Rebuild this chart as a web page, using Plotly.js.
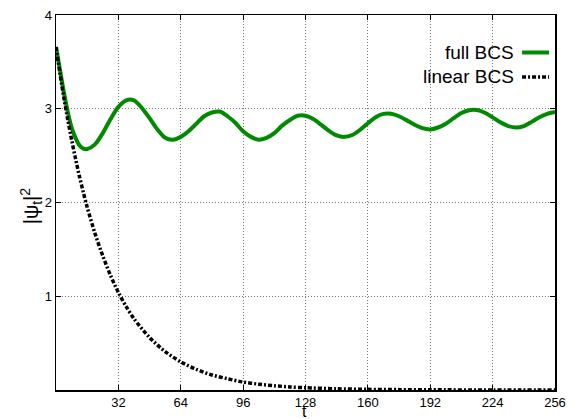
<!DOCTYPE html>
<html>
<head>
<meta charset="utf-8">
<script src="https://cdn.plot.ly/plotly-3.0.1.min.js"></script>
<style>
  html, body { margin: 0; padding: 0; background: #fff; }
  #plot { width: 575px; height: 419px; }
</style>
</head>
<body>
<div id="plot"></div>
<script>
// Time samples and |psi_t|^2 for the full BCS dynamics
const tFull = [0, 2, 4, 6, 8, 10, 12, 14, 16,
  20, 24, 28, 32, 36, 40, 44, 48, 52, 56, 60, 64, 68, 72, 76, 80,
  84, 88, 92, 96, 100, 104, 108, 112, 116, 120, 124, 128, 132, 136, 140,
  144, 148, 152, 156, 160, 164, 168, 172, 176, 180, 184, 188, 192, 196,
  200, 204, 208, 212, 216, 220, 224, 228, 232, 236, 240, 244, 248, 252, 256];
const fullBCS = [3.66, 3.42, 3.18, 2.97, 2.80, 2.69, 2.61, 2.575, 2.57,
  2.62, 2.74, 2.89, 3.02, 3.09, 3.09, 3.01, 2.90, 2.78, 2.69, 2.67, 2.70, 2.76, 2.84, 2.92, 2.96,
  2.97, 2.92, 2.85, 2.76, 2.70, 2.67, 2.69, 2.74, 2.82, 2.88, 2.925, 2.925, 2.89, 2.83, 2.765,
  2.715, 2.70, 2.72, 2.775, 2.845, 2.91, 2.945, 2.947, 2.92, 2.876, 2.829, 2.793, 2.78, 2.80,
  2.84, 2.90, 2.955, 2.985, 2.986, 2.957, 2.908, 2.855, 2.815, 2.80, 2.815, 2.86, 2.91, 2.945, 2.965];

// Time samples and |psi_t|^2 for the linearised BCS dynamics
const tLin = [0, 2, 4, 6, 8, 10, 12, 14, 16, 20, 24, 28, 32, 36, 40, 48, 56, 64,
  72, 80, 88, 96, 104, 112, 120, 128, 144, 160, 176, 192, 224, 256];
const linearBCS = [3.66, 3.38, 3.12, 2.89, 2.67, 2.47, 2.28, 2.11, 1.95, 1.67, 1.43, 1.22, 1.04, 0.89, 0.76, 0.56, 0.41, 0.30,
  0.22, 0.16, 0.12, 0.085, 0.062, 0.045, 0.033, 0.024, 0.013, 0.007, 0.004, 0.002, 0.0006, 0.0002];

const xTicks = [32, 64, 96, 128, 160, 192, 224, 256];
const yTicks = [1, 2, 3, 4];
const seriesNames = ['full BCS', 'linear BCS'];

const green = '#008a00';
const font = 'Liberation Sans, Arial, sans-serif';
const dashPattern = '4px,2px,2px,2px';

const traces = [
  {
    x: tFull, y: fullBCS, name: seriesNames[0], type: 'scatter', mode: 'lines',
    line: { color: green, width: 4, shape: 'spline', smoothing: 0.8 }
  },
  {
    x: tLin, y: linearBCS, name: seriesNames[1], type: 'scatter', mode: 'lines',
    line: { color: '#000', width: 3.5, dash: dashPattern, shape: 'spline', smoothing: 0.8 }
  }
];

const axisCommon = {
  showline: true, linecolor: '#000', linewidth: 1.5, mirror: 'ticks',
  ticks: 'inside', ticklen: 5, tickwidth: 1, tickcolor: '#000',
  showgrid: true, gridcolor: '#777', gridwidth: 1, griddash: '1px,2px',
  zeroline: false, tickfont: { family: font, size: 13, color: '#000' },
  automargin: false
};

// Legend drawn gnuplot-style: right-aligned label with the line sample to its right
const legendY = [0.9, 0.835];
const legendShapes = [
  { type: 'line', xref: 'paper', yref: 'paper', x0: 0.934, x1: 0.988, y0: legendY[0], y1: legendY[0],
    line: { color: green, width: 4 } },
  { type: 'line', xref: 'paper', yref: 'paper', x0: 0.934, x1: 0.988, y0: legendY[1], y1: legendY[1],
    line: { color: '#000', width: 3.5, dash: dashPattern } }
];
const legendText = seriesNames.map((n, i) => ({
  xref: 'paper', yref: 'paper', x: 0.922, y: legendY[i], xanchor: 'right', yanchor: 'middle',
  text: n, showarrow: false, font: { family: font, size: 19, color: '#000' }
}));

// Axis titles placed as text below and left of the frame
const axisTitles = [
  { xref: 'paper', yref: 'paper', x: 0.498, y: -0.056, xanchor: 'center', yanchor: 'middle',
    text: 't', showarrow: false, font: { family: font, size: 16, color: '#000' } },
  { xref: 'paper', yref: 'paper', x: -0.05, y: 0.49, xanchor: 'center', yanchor: 'middle',
    text: '|ψ<sub>t</sub>|<sup>2</sup>', textangle: -90, showarrow: false,
    font: { family: font, size: 20, color: '#000' } }
];

const layout = {
  width: 575, height: 419,
  margin: { l: 56, r: 20, t: 15, b: 29 },
  paper_bgcolor: '#fff', plot_bgcolor: '#fff',
  showlegend: false,
  xaxis: Object.assign({}, axisCommon, {
    range: [0, 256], tickvals: xTicks, ticktext: xTicks.map(String)
  }),
  yaxis: Object.assign({}, axisCommon, {
    range: [0, 4], tickvals: yTicks, ticktext: yTicks.map(String)
  }),
  shapes: legendShapes,
  annotations: legendText.concat(axisTitles)
};

Plotly.newPlot('plot', traces, layout, { displayModeBar: false, staticPlot: true });
</script>
</body>
</html>
